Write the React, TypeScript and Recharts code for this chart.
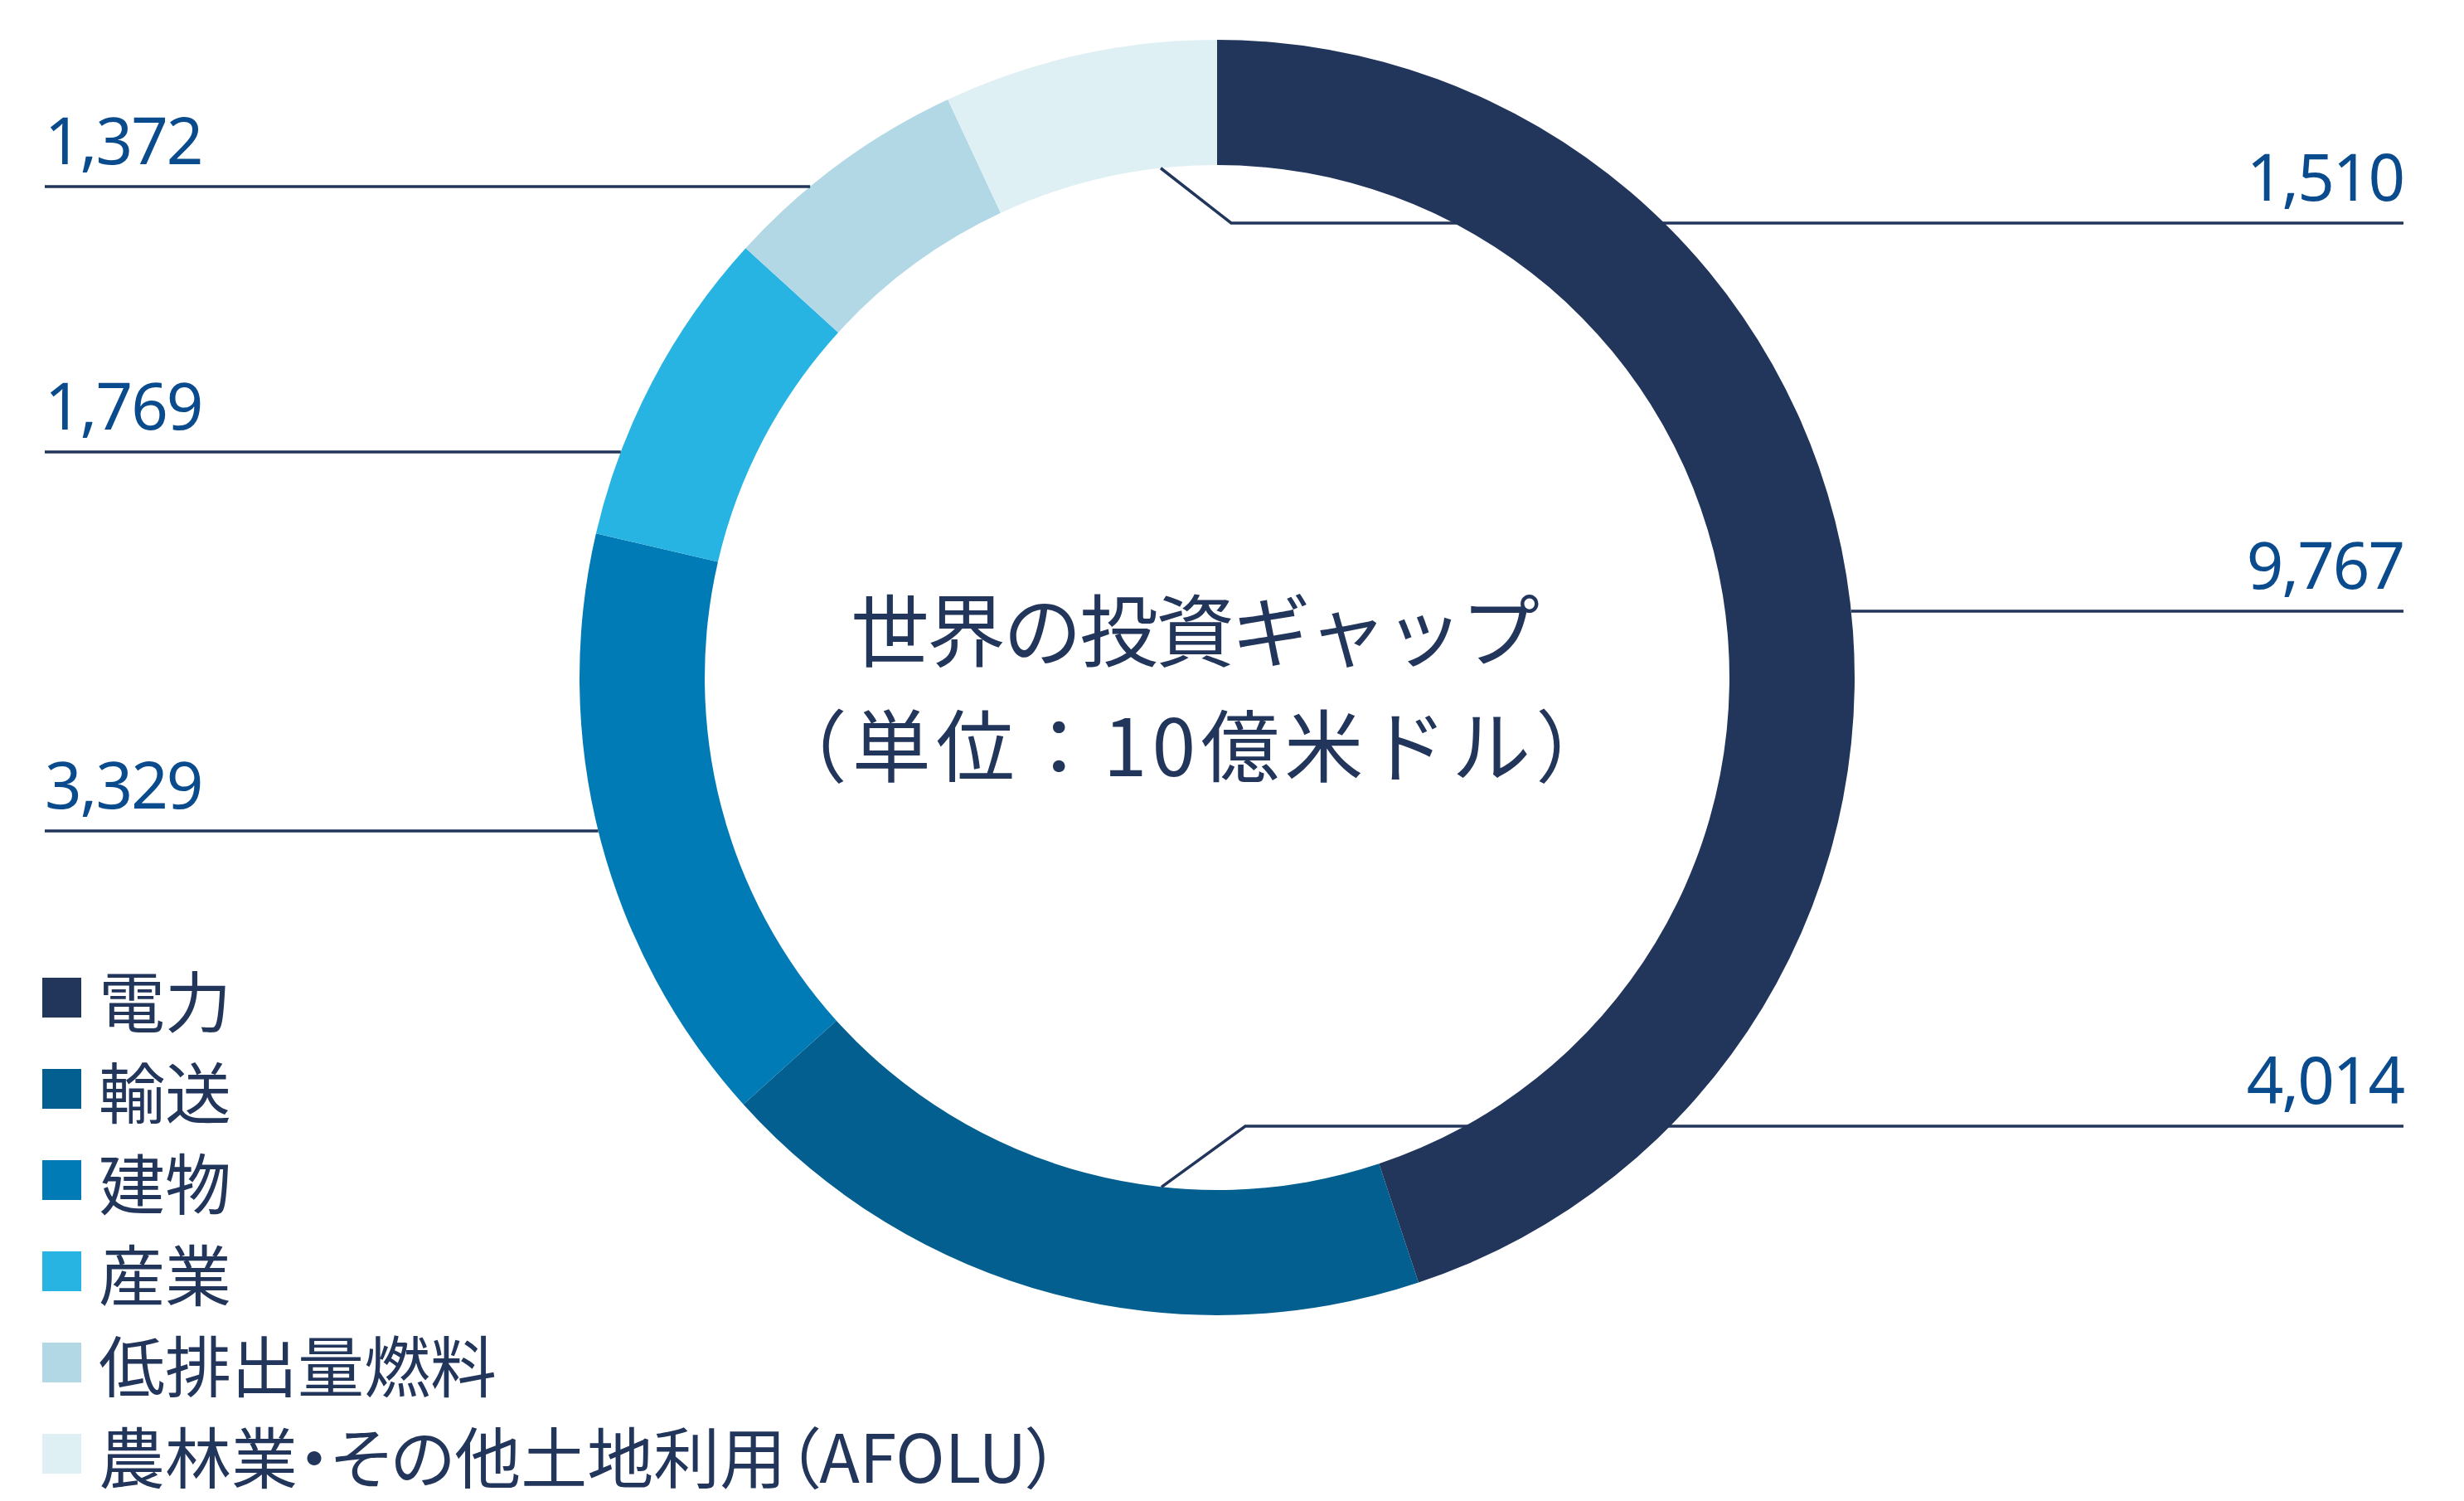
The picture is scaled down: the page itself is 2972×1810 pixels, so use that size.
import { PieChart, Pie, Cell, Legend } from "recharts"

const categories = [
  "電力",
  "輸送",
  "建物",
  "産業",
  "低排出量燃料",
  "農林業・その他土地利用（AFOLU）",
]
const gapValues = [9767, 4014, 3329, 1769, 1372, 1510]
const sliceColors = ["#22355b", "#035f8f", "#007bb5", "#28b4e2", "#b2d8e5", "#dff0f5"]
const titleLines = ["世界の投資ギャップ", "（単位：10億米ドル）"]

const data = categories.map((name, i) => ({ name, value: gapValues[i] }))

const NAVY = "#22355b"
const NUM_BLUE = "#094b8c"
const JP_FONT = "'Noto Sans CJK JP', 'Noto Sans', sans-serif"
const NUM_FONT = "'Noto Sans', 'Open Sans', sans-serif"

const W = 2964
const H = 1802
const CX = 1460
const CY = 809
const LEFT_X = 46
const RIGHT_X = 2891

// leader line for each slice: side, line height relative to the centre,
// and for the two that start inside the ring, where they leave the inner edge
const labelLayout = [
  { side: "right", dy: -80 },
  { side: "right", dy: 541, inner: -67, elbow: 34 },
  { side: "left", dy: 185 },
  { side: "left", dy: -272 },
  { side: "left", dy: -592 },
  { side: "right", dy: -548, inner: -68, elbow: 17 },
]

function renderLabel(props: any) {
  const { cx, cy, innerRadius, outerRadius, index, value } = props
  const l: any = labelLayout[index]
  const y = cy + l.dy
  let d = ""
  let tx = RIGHT_X
  let anchor = "end"

  if (l.side === "left") {
    const xEdge = cx - Math.sqrt(outerRadius * outerRadius - l.dy * l.dy)
    d = `M${LEFT_X},${y}H${xEdge}`
    tx = LEFT_X
    anchor = "start"
  } else if (l.inner !== undefined) {
    const dir = l.dy < 0 ? -1 : 1
    const yIn = cy + dir * Math.sqrt(innerRadius * innerRadius - l.inner * l.inner)
    d = `M${cx + l.inner},${yIn}L${cx + l.elbow},${y}H${RIGHT_X}`
  } else {
    const xEdge = cx + Math.sqrt(outerRadius * outerRadius - l.dy * l.dy)
    d = `M${xEdge},${y}H${RIGHT_X}`
  }

  return (
    <g>
      <path d={d} stroke={NAVY} strokeWidth={3.5} fill="none" />
      <text
        x={tx}
        y={y - 27}
        textAnchor={anchor}
        fill={NUM_BLUE}
        fontFamily={NUM_FONT}
        fontSize={78}
        letterSpacing={-2}
      >
        {Number(value).toLocaleString("en-US")}
      </text>
    </g>
  )
}

function LegendList(props: any) {
  const payload = props.payload || []
  return (
    <ul style={{ listStyle: "none", margin: 0, padding: 0 }}>
      {payload.map((entry: any) => {
        const i = categories.indexOf(entry.value)
        return (
          <li key={entry.value} style={{ display: "flex", alignItems: "center", height: 110 }}>
            <span
              style={{
                width: 47,
                height: 48,
                background: sliceColors[i] || entry.color,
                marginRight: 21,
                flex: "none",
              }}
            />
            <span
              style={{
                fontFamily: JP_FONT,
                fontSize: 80,
                fontWeight: 400,
                fontFeatureSettings: "'palt'",
                color: NAVY,
                lineHeight: 1,
                whiteSpace: "nowrap",
              }}
            >
              {entry.value}
            </span>
          </li>
        )
      })}
    </ul>
  )
}

const titleStyle = {
  textAnchor: "middle" as const,
  dominantBaseline: "central" as const,
  fill: NAVY,
  fontFamily: JP_FONT,
  fontSize: 95,
  fontWeight: 400,
}

export default function App() {
  return (
    <PieChart width={W} height={H} margin={{ top: 0, right: 0, bottom: 0, left: 0 }}>
      <Pie
        data={data}
        dataKey="value"
        nameKey="name"
        cx={CX}
        cy={CY}
        innerRadius={618}
        outerRadius={769}
        startAngle={90}
        endAngle={-270}
        stroke="none"
        label={renderLabel}
        labelLine={false}
        isAnimationActive={false}
      >
        {data.map((d, i) => (
          <Cell key={d.name} fill={sliceColors[i]} />
        ))}
      </Pie>
      <text x={CX - 28} y={747} letterSpacing={-3} {...titleStyle}>
        {titleLines[0]}
      </text>
      <text x={CX - 28} y={886} letterSpacing={6} {...titleStyle}>
        {titleLines[1]}
      </text>
      <Legend
        layout="horizontal"
        align="center"
        verticalAlign="middle"
        itemSorter={null}
        content={<LegendList />}
        wrapperStyle={{ left: 43, top: 1140, width: 1300 }}
      />
    </PieChart>
  )
}
